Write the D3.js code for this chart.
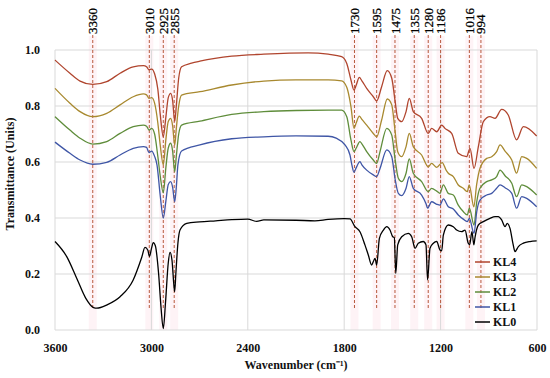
<!DOCTYPE html>
<html>
<head>
<meta charset="utf-8">
<script src="https://cdn.jsdelivr.net/npm/d3@7"></script>
<style>
  body { margin: 0; background: #fff; }
  svg text { font-family: "Liberation Serif", "Times New Roman", serif; }
</style>
</head>
<body>
<div id="chart"></div>
<script>
// series as [wavenumber, transmittance]
const kl4 = [[3600,0.964],[3507,0.917],[3444,0.889],[3365,0.877],[3278,0.887],[3195,0.917],[3113,0.94],[3050,0.944],[3030,0.94],[3015,0.929],[2998,0.932],[2980,0.915],[2960,0.86],[2945,0.77],[2926,0.69],[2910,0.76],[2895,0.83],[2880,0.845],[2868,0.82],[2855,0.745],[2845,0.8],[2830,0.9],[2812,0.94],[2750,0.953],[2698,0.96],[2500,0.978],[2300,0.985],[2025,0.99],[1900,0.985],[1816,0.976],[1784,0.952],[1758,0.893],[1739,0.857],[1725,0.875],[1706,0.902],[1690,0.89],[1660,0.863],[1619,0.833],[1598,0.818],[1567,0.869],[1532,0.926],[1504,0.899],[1484,0.821],[1467,0.756],[1442,0.744],[1415,0.78],[1395,0.827],[1370,0.78],[1318,0.756],[1277,0.702],[1256,0.72],[1224,0.708],[1193,0.732],[1173,0.72],[1131,0.702],[1090,0.631],[1038,0.619],[1017,0.649],[992,0.577],[965,0.655],[934,0.744],[893,0.762],[861,0.756],[820,0.788],[779,0.768],[727,0.679],[685,0.726],[602,0.693]];
const kl3 = [[3600,0.863],[3507,0.81],[3444,0.78],[3365,0.762],[3278,0.774],[3195,0.804],[3113,0.833],[3050,0.843],[3030,0.84],[3015,0.827],[2998,0.83],[2980,0.81],[2960,0.74],[2945,0.66],[2926,0.59],[2910,0.68],[2895,0.745],[2880,0.756],[2868,0.73],[2855,0.66],[2845,0.72],[2830,0.8],[2812,0.839],[2698,0.851],[2500,0.875],[2300,0.889],[2100,0.893],[1900,0.893],[1816,0.89],[1784,0.867],[1758,0.798],[1739,0.72],[1725,0.74],[1706,0.764],[1690,0.752],[1660,0.732],[1619,0.702],[1598,0.69],[1567,0.75],[1532,0.825],[1504,0.804],[1484,0.714],[1467,0.637],[1442,0.619],[1415,0.655],[1395,0.702],[1370,0.655],[1318,0.625],[1277,0.583],[1256,0.595],[1224,0.581],[1190,0.598],[1165,0.57],[1152,0.56],[1121,0.548],[1090,0.518],[1059,0.506],[1034,0.494],[1022,0.518],[993,0.44],[976,0.518],[955,0.577],[913,0.613],[882,0.619],[851,0.637],[830,0.661],[799,0.639],[757,0.607],[727,0.56],[695,0.619],[664,0.613],[602,0.577]];
const kl2 = [[3600,0.762],[3507,0.714],[3444,0.685],[3365,0.664],[3278,0.673],[3195,0.702],[3113,0.726],[3050,0.732],[3030,0.728],[3015,0.714],[2998,0.72],[2980,0.7],[2960,0.62],[2945,0.55],[2926,0.49],[2910,0.58],[2895,0.65],[2880,0.667],[2868,0.64],[2855,0.565],[2845,0.62],[2830,0.7],[2812,0.732],[2698,0.746],[2500,0.77],[2300,0.78],[2100,0.784],[1900,0.785],[1816,0.785],[1784,0.762],[1758,0.679],[1739,0.637],[1725,0.65],[1702,0.673],[1690,0.665],[1660,0.637],[1619,0.607],[1598,0.595],[1577,0.637],[1535,0.72],[1504,0.696],[1484,0.613],[1463,0.542],[1442,0.53],[1415,0.56],[1395,0.611],[1370,0.56],[1318,0.53],[1277,0.494],[1256,0.506],[1224,0.496],[1204,0.488],[1183,0.518],[1152,0.488],[1121,0.482],[1090,0.446],[1059,0.423],[1034,0.411],[1021,0.435],[992,0.375],[975,0.458],[955,0.506],[913,0.53],[882,0.536],[851,0.548],[830,0.571],[799,0.551],[757,0.524],[727,0.476],[695,0.518],[664,0.512],[602,0.482]];
const kl1 = [[3600,0.671],[3507,0.631],[3444,0.607],[3365,0.592],[3278,0.599],[3195,0.625],[3113,0.649],[3050,0.655],[3030,0.652],[3015,0.634],[2998,0.639],[2980,0.62],[2965,0.589],[2945,0.48],[2926,0.4],[2910,0.46],[2895,0.52],[2880,0.53],[2868,0.51],[2855,0.458],[2845,0.51],[2835,0.59],[2812,0.639],[2698,0.661],[2500,0.683],[2300,0.69],[2100,0.693],[1900,0.692],[1850,0.685],[1795,0.661],[1764,0.625],[1752,0.589],[1739,0.563],[1725,0.58],[1702,0.601],[1690,0.59],[1660,0.571],[1619,0.554],[1598,0.548],[1577,0.577],[1535,0.643],[1504,0.619],[1484,0.542],[1463,0.488],[1442,0.48],[1415,0.506],[1395,0.548],[1370,0.506],[1318,0.482],[1290,0.45],[1281,0.435],[1256,0.458],[1224,0.449],[1204,0.446],[1183,0.468],[1152,0.44],[1121,0.432],[1090,0.411],[1059,0.396],[1034,0.387],[1021,0.399],[992,0.345],[975,0.423],[955,0.464],[913,0.482],[882,0.488],[851,0.506],[830,0.518],[799,0.508],[757,0.488],[727,0.435],[695,0.476],[664,0.47],[602,0.44]];
const kl0 = [[3600,0.316],[3527,0.262],[3465,0.185],[3410,0.115],[3360,0.08],[3340,0.078],[3276,0.09],[3195,0.119],[3114,0.178],[3060,0.26],[3040,0.295],[3022,0.285],[3012,0.262],[3000,0.29],[2988,0.312],[2975,0.3],[2955,0.2],[2940,0.08],[2926,0.005],[2912,0.1],[2895,0.24],[2884,0.277],[2872,0.25],[2860,0.16],[2855,0.137],[2848,0.2],[2835,0.31],[2822,0.357],[2780,0.381],[2700,0.386],[2600,0.39],[2500,0.394],[2400,0.396],[2345,0.388],[2300,0.393],[2100,0.392],[1982,0.39],[1900,0.395],[1800,0.398],[1764,0.397],[1733,0.369],[1702,0.351],[1671,0.304],[1650,0.268],[1629,0.232],[1619,0.244],[1608,0.256],[1598,0.232],[1581,0.327],[1556,0.357],[1535,0.369],[1515,0.357],[1498,0.333],[1488,0.33],[1479,0.202],[1467,0.304],[1442,0.333],[1401,0.345],[1380,0.333],[1359,0.292],[1339,0.31],[1308,0.316],[1291,0.304],[1281,0.179],[1266,0.292],[1245,0.31],[1224,0.316],[1204,0.286],[1193,0.283],[1183,0.339],[1152,0.375],[1121,0.369],[1100,0.357],[1069,0.351],[1048,0.357],[1028,0.31],[1019,0.305],[1005,0.351],[993,0.304],[986,0.33],[965,0.375],[934,0.387],[893,0.399],[861,0.405],[841,0.405],[820,0.393],[799,0.369],[785,0.381],[768,0.363],[748,0.304],[737,0.28],[716,0.298],[685,0.31],[644,0.316],[602,0.318]];

const seriesNames = ["KL4", "KL3", "KL2", "KL1", "KL0"];
const seriesData = [kl4, kl3, kl2, kl1, kl0];
const seriesColors = ["#b0452e", "#a8892f", "#5f8d3b", "#3f56a6", "#000000"];

// marked bands: label text and where the dashed line is drawn
const peakLabels = ["3360", "3010", "2925", "2855", "1730", "1595", "1475", "1355", "1280", "1186", "1016", "994"];
const peakPos = [3365, 3013, 2926, 2858, 1736, 1598, 1484, 1364, 1277, 1200, 1021, 949];

const xTicks = [3600, 3000, 2400, 1800, 1200, 600];
const yTicks = [0, 0.2, 0.4, 0.6, 0.8, 1.0];

const width = 550, height = 378;
const margin = {top: 50, right: 13, bottom: 48, left: 55};

const svg = d3.select("#chart").append("svg")
    .attr("width", width)
    .attr("height", height);

const x = d3.scaleLinear().domain([3600, 600]).range([margin.left, width - margin.right]);
const y = d3.scaleLinear().domain([0, 1]).range([height - margin.bottom, margin.top]);

// faint pink strips behind marked bands
svg.append("g").selectAll("rect")
    .data(peakPos)
    .enter().append("rect")
    .attr("x", d => x(d) - 4)
    .attr("y", 36)
    .attr("width", 8)
    .attr("height", y(0) - 36)
    .attr("fill", "#fef3f6");

// grid
svg.append("g").selectAll("line")
    .data(yTicks)
    .enter().append("line")
    .attr("x1", x(3600)).attr("x2", x(600))
    .attr("y1", d => y(d)).attr("y2", d => y(d))
    .attr("stroke", "#d9d9d9");

svg.append("g").selectAll("line")
    .data(xTicks)
    .enter().append("line")
    .attr("x1", d => x(d)).attr("x2", d => x(d))
    .attr("y1", y(0)).attr("y2", y(1))
    .attr("stroke", "#d9d9d9");

// axes (labels only)
const xAxis = svg.append("g")
    .attr("transform", `translate(0,${y(0)})`)
    .call(d3.axisBottom(x).tickValues(xTicks).tickSize(0).tickPadding(13).tickFormat(d3.format("d")));
const yAxis = svg.append("g")
    .attr("transform", `translate(${margin.left},0)`)
    .call(d3.axisLeft(y).tickValues(yTicks).tickSize(0).tickPadding(15).tickFormat(d3.format(".1f")));
[xAxis, yAxis].forEach(a => {
    a.select(".domain").remove();
    a.selectAll("text")
        .style("font-family", "'Liberation Serif', serif")
        .style("font-size", "12px")
        .style("font-weight", "bold")
        .attr("fill", "#111");
});

// dashed peak lines
svg.append("g").selectAll("line")
    .data(peakPos)
    .enter().append("line")
    .attr("x1", d => x(d)).attr("x2", d => x(d))
    .attr("y1", 35).attr("y2", 308)
    .attr("stroke", "#b8583c")
    .attr("stroke-width", 1)
    .attr("stroke-dasharray", "3,2");

svg.append("g").selectAll("text")
    .data(peakLabels)
    .enter().append("text")
    .attr("transform", (d, i) => `translate(${x(peakPos[i])},34) rotate(-90)`)
    .attr("dy", "0.35em")
    .style("font-size", "13px")
    .attr("fill", "#000")
    .attr("stroke", "#000")
    .attr("stroke-width", 0.25)
    .text(d => d);

// spectra
const line = d3.line()
    .x(d => x(d[0]))
    .y(d => y(d[1]))
    .curve(d3.curveMonotoneX);

svg.append("g").selectAll("path")
    .data(seriesData)
    .enter().append("path")
    .attr("d", line)
    .attr("fill", "none")
    .attr("stroke", (d, i) => seriesColors[i])
    .attr("stroke-width", 1.3);

// legend
const legend = svg.append("g").selectAll("g")
    .data(seriesNames)
    .enter().append("g")
    .attr("transform", (d, i) => `translate(475,${262 + i * 15})`);
legend.append("line")
    .attr("x1", 0).attr("x2", 15)
    .attr("stroke", (d, i) => seriesColors[i])
    .attr("stroke-width", 1.5);
legend.append("text")
    .attr("x", 18)
    .attr("dy", "0.35em")
    .style("font-size", "12px")
    .style("font-weight", "bold")
    .attr("fill", "#111")
    .text(d => d);

// axis titles
svg.append("text")
    .attr("x", (x(3600) + x(600)) / 2)
    .attr("y", 369)
    .attr("text-anchor", "middle")
    .style("font-size", "12px")
    .style("font-weight", "bold")
    .attr("fill", "#111")
    .text("Wavenumber (cm\u207B\u00B9)");

svg.append("text")
    .attr("transform", "translate(14,174) rotate(-90)")
    .attr("text-anchor", "middle")
    .style("font-size", "12px")
    .style("font-weight", "bold")
    .attr("fill", "#111")
    .text("Transmittance (Units)");
</script>
</body>
</html>
